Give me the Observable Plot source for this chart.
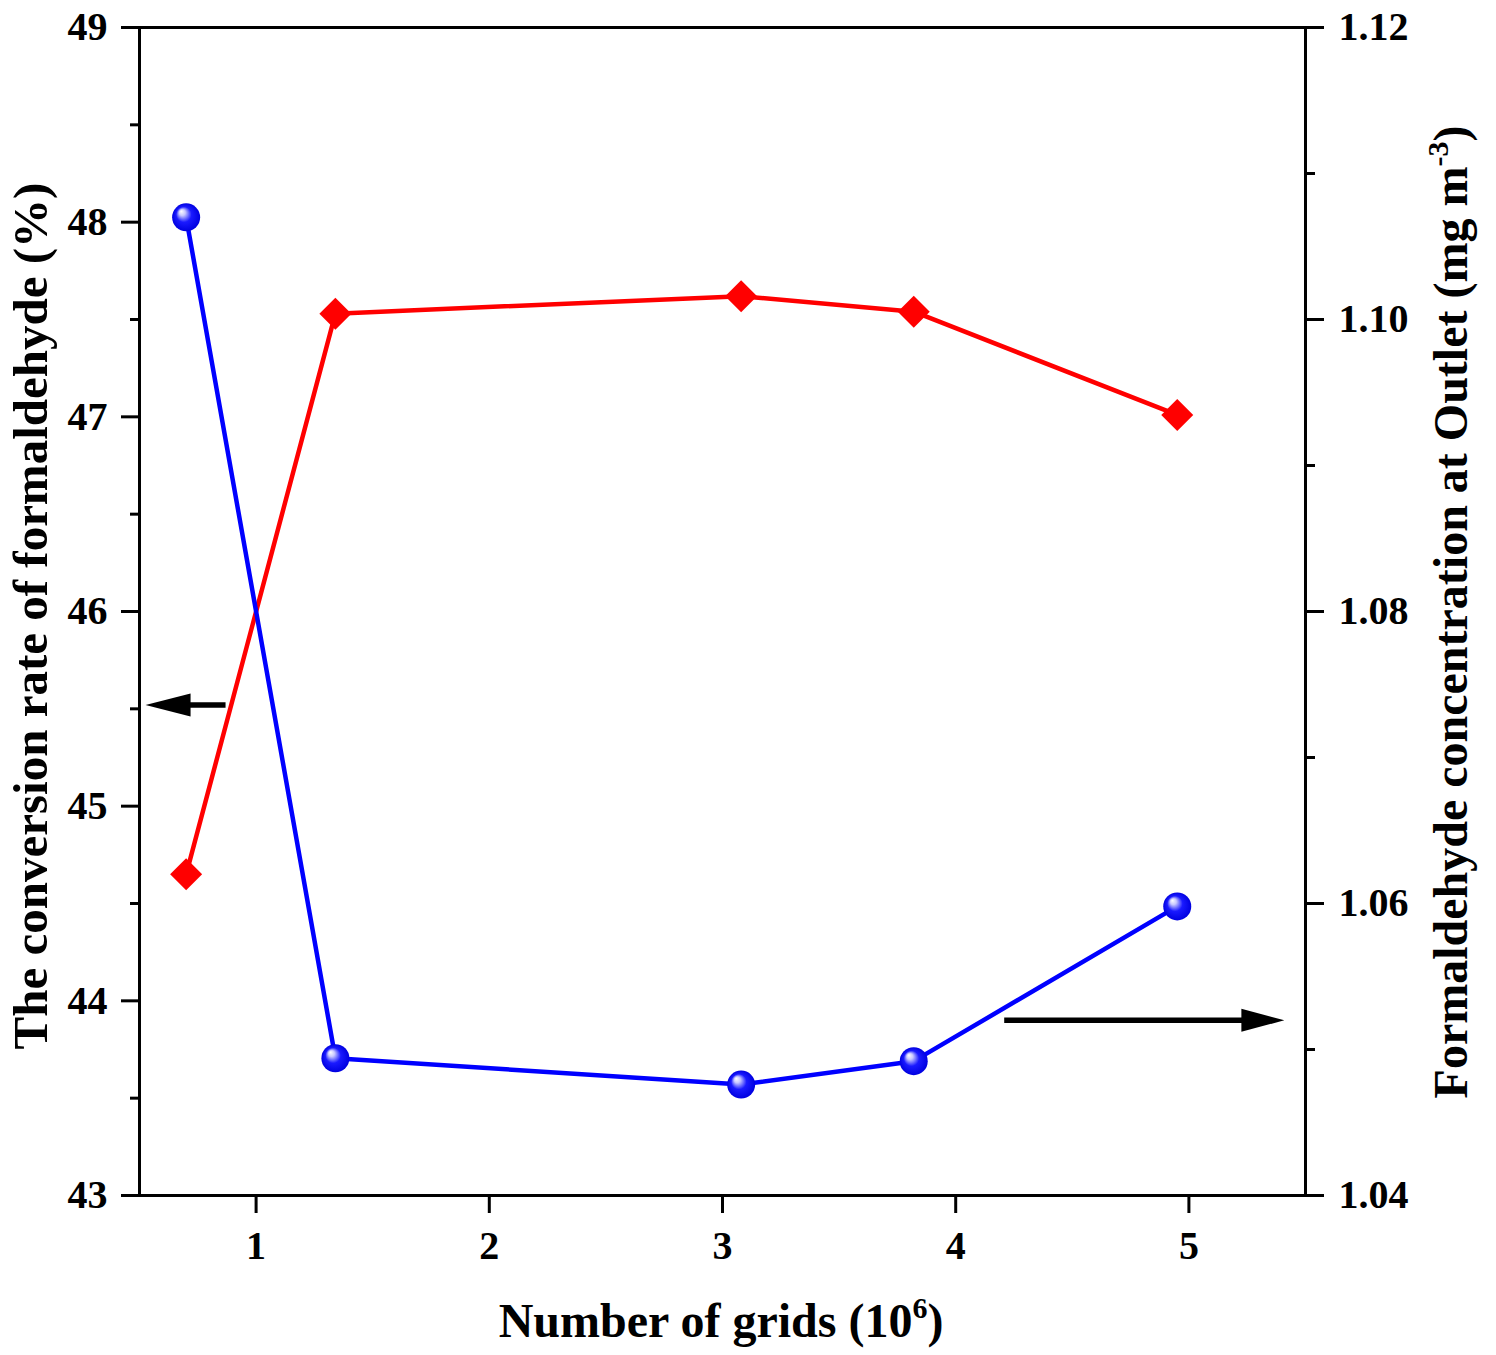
<!DOCTYPE html>
<html><head><meta charset="utf-8">
<script src="https://cdn.jsdelivr.net/npm/d3@7"></script>
<script src="https://cdn.jsdelivr.net/npm/@observablehq/plot@0.6"></script>
<style>
body{margin:0;background:#fff}
svg{font-family:"Liberation Serif","Times New Roman",serif;font-weight:bold}
</style>
</head><body><div id="chart"></div>
<script>
// Data
const grids = [0.70, 1.34, 3.08, 3.82, 4.95];             // Number of grids (10^6)
const conversion = [44.65, 47.53, 47.62, 47.54, 47.01];   // left axis (%)
const outletConc = [1.107, 1.0494, 1.0476, 1.0492, 1.0598]; // right axis (mg m^-3)

const xTicks = [1, 2, 3, 4, 5];
const leftTicks = [43, 44, 45, 46, 47, 48, 49];
const leftMinor = [43.5, 44.5, 45.5, 46.5, 47.5, 48.5];
const rightTicks = [1.04, 1.06, 1.08, 1.10, 1.12];
const rightMinor = [1.05, 1.07, 1.09, 1.11];

// Arrows pointing at the axes (data coordinates)
const arrowY = [45.52, 43.90];
const arrowFrom = [0.869, 4.208];
const arrowHead = [0.6245, 5.315];
const arrowDir = ["left", "right"];

// right axis mapped onto the left scale
const rLo = 1.04, rHi = 1.12, lLo = 43, lHi = 49;
const toLeft = v => lLo + (v - rLo) / (rHi - rLo) * (lHi - lLo);
const fromLeft = y => rLo + (y - lLo) / (lHi - lLo) * (rHi - rLo);

const redData = grids.map((x, i) => ({x, y: conversion[i]}));
const blueData = grids.map((x, i) => ({x, y: toLeft(outletConc[i])}));
const arrows = arrowY.map((y, i) => ({y, x1: arrowFrom[i], x2: arrowHead[i], dir: arrowDir[i]}));

const diamond = {draw(ctx) { const h = 16; ctx.moveTo(0, -h); ctx.lineTo(h, 0); ctx.lineTo(0, h); ctx.lineTo(-h, 0); ctx.closePath(); }};
const headLeft = {draw(ctx) { ctx.moveTo(-23, 0); ctx.lineTo(22, -11.5); ctx.lineTo(22, 11.5); ctx.closePath(); }};
const headRight = {draw(ctx) { ctx.moveTo(22, 0); ctx.lineTo(-21, -11.5); ctx.lineTo(-21, 11.5); ctx.closePath(); }};

const axisCommon = {strokeWidth: 3, label: null};

const chart = Plot.plot({
  width: 1496, height: 1355,
  marginLeft: 139, marginRight: 191, marginTop: 27, marginBottom: 160,
  x: {domain: [0.5, 5.5]},
  y: {domain: [lLo, lHi]},
  style: {fontFamily: '"Liberation Serif","Times New Roman",serif', fontSize: "40px", fontWeight: "bold", color: "#000", background: "#fff", overflow: "visible"},
  marks: [
    Plot.axisX({...axisCommon, ticks: xTicks, tickSize: 18, tickPadding: 17, tickFormat: d => String(d)}),
    Plot.axisY({...axisCommon, anchor: "left", ticks: leftTicks, tickSize: 18, tickPadding: 14, tickFormat: d => String(d)}),
    Plot.axisY({...axisCommon, anchor: "left", ticks: leftMinor, tickSize: 9, tickFormat: () => ""}),
    Plot.axisY({...axisCommon, anchor: "right", ticks: rightTicks.map(toLeft), tickSize: 18, tickPadding: 15, tickFormat: d => fromLeft(d).toFixed(2)}),
    Plot.axisY({...axisCommon, anchor: "right", ticks: rightMinor.map(toLeft), tickSize: 9, tickFormat: () => ""}),
    Plot.frame({stroke: "#000", strokeWidth: 3}),
    Plot.line(redData, {x: "x", y: "y", stroke: "#ff0000", strokeWidth: 4.5}),
    Plot.line(blueData, {x: "x", y: "y", stroke: "#0000ff", strokeWidth: 4.5}),
    Plot.dot(redData, {x: "x", y: "y", symbol: diamond, fill: "#ff0000", r: 10}),
    Plot.dot(blueData, {x: "x", y: "y", r: 14, fill: "url(#sphereGrad)"}),
    Plot.link(arrows, {x1: "x1", x2: "x2", y1: "y", y2: "y", stroke: "#000", strokeWidth: 5.5}),
    Plot.dot(arrows.filter(d => d.dir === "left"), {x: "x2", y: "y", symbol: headLeft, fill: "#000", r: 10}),
    Plot.dot(arrows.filter(d => d.dir === "right"), {x: "x2", y: "y", symbol: headRight, fill: "#000", r: 10})
  ]
});

const svg = d3.select(chart);
const defs = svg.insert("defs", ":first-child");
const g = defs.append("radialGradient").attr("id", "sphereGrad")
  .attr("cx", "50%").attr("cy", "50%").attr("r", "50%").attr("fx", "32%").attr("fy", "28%");
g.append("stop").attr("offset", "0%").attr("stop-color", "#ffffff");
g.append("stop").attr("offset", "22%").attr("stop-color", "#c8c8ff");
g.append("stop").attr("offset", "55%").attr("stop-color", "#1a1aff");
g.append("stop").attr("offset", "100%").attr("stop-color", "#0000e0");

// x axis title
const xt = svg.append("text").attr("x", 721).attr("y", 1337).attr("text-anchor", "middle")
  .attr("font-size", "48px").attr("font-weight", "bold").attr("fill", "#000");
xt.append("tspan").text("Number of grids (10");
xt.append("tspan").attr("dy", -19).attr("font-size", "30px").text("6");
xt.append("tspan").attr("dy", 19).text(")");

// left axis title
svg.append("text").attr("transform", "translate(47,616) rotate(-90)").attr("text-anchor", "middle")
  .attr("font-size", "49px").attr("font-weight", "bold").attr("fill", "#000")
  .text("The conversion rate of formaldehyde (%)");

// right axis title
const rt = svg.append("text").attr("transform", "translate(1467,612) rotate(-90)").attr("text-anchor", "middle")
  .attr("font-size", "48px").attr("font-weight", "bold").attr("fill", "#000");
rt.append("tspan").text("Formaldehyde concentration at Outlet (mg m");
rt.append("tspan").attr("dy", -19).attr("font-size", "30px").text("-3");
rt.append("tspan").attr("dy", 19).text(")");

document.getElementById("chart").appendChild(chart);
</script>
</body></html>
